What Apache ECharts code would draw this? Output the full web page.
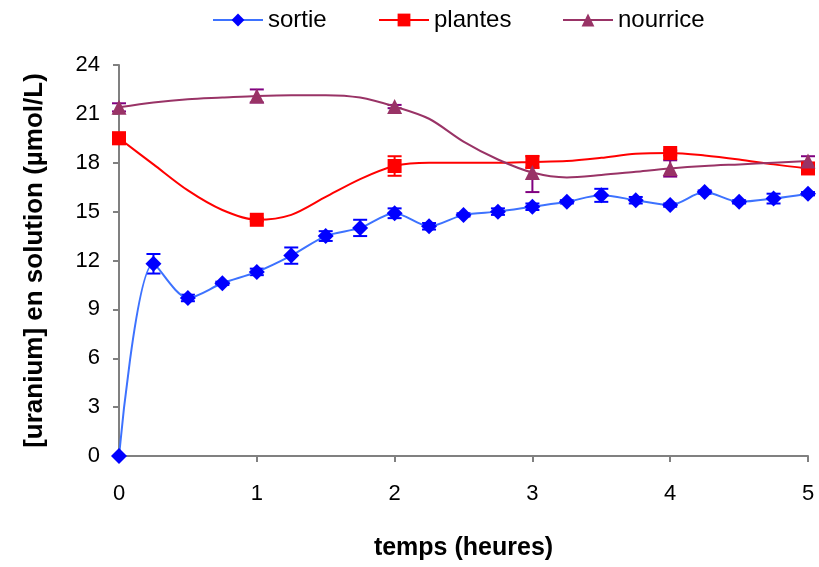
<!DOCTYPE html>
<html>
<head>
<meta charset="utf-8">
<script src="https://cdn.jsdelivr.net/npm/echarts@6/dist/echarts.min.js"></script>
<style>
  html, body { margin: 0; padding: 0; background: #fff; }
  #chart { width: 819px; height: 567px; }
</style>
</head>
<body>
<div id="chart"></div>
<script>
// Sampling times (hours)
const hours = [0, 0.25, 0.5, 0.75, 1, 1.25, 1.5, 1.75, 2, 2.25, 2.5, 2.75, 3, 3.25, 3.5, 3.75, 4, 4.25, 4.5, 4.75, 5];

// Uranium concentration (µmol/L)
const sortie   = [0, 11.8, 9.7, 10.6, 11.3, 12.3, 13.5, 14.0, 14.9, 14.1, 14.8, 15.0, 15.3, 15.6, 16.0, 15.7, 15.4, 16.2, 15.6, 15.8, 16.1];
const plantes  = [19.5, 17.9, 16.3, 15.1, 14.5, 14.8, 15.9, 17.0, 17.8, 18.0, 18.0, 18.0, 18.05, 18.1, 18.3, 18.55, 18.6, 18.45, 18.2, 17.9, 17.65];
const nourrice = [21.4, 21.7, 21.9, 22.0, 22.1, 22.15, 22.15, 22.0, 21.45, 20.7, 19.3, 18.2, 17.4, 17.1, 17.25, 17.45, 17.65, 17.8, 17.9, 18.0, 18.1];

// Standard deviations (lower, upper)
const sortieErrLo = [0, 0.6, 0.2, 0.1, 0.2, 0.5, 0.3, 0.5, 0.3, 0.2, 0.1, 0.2, 0.2, 0.1, 0.4, 0.2, 0.1, 0.1, 0.1, 0.3, 0.1];
const sortieErrHi = sortieErrLo;
// plantes / nourrice: measured at whole hours only
const measuredHours = [0, 1, 2, 3, 4, 5];
const plantesErrLo  = [0.35, 0.1, 0.6, 0.35, 0.15, 0.1];
const plantesErrHi  = [0.35, 0.1, 0.6, 0.35, 0.15, 0.1];
const nourriceErrLo = [0.25, 0.4, 0.1, 1.2, 0.5, 0.3];
const nourriceErrHi = [0.25, 0.4, 0.1, 0.0, 0.5, 0.3];

const yTicks = [0, 3, 6, 9, 12, 15, 18, 21, 24];
const xTicks = [0, 1, 2, 3, 4, 5];

const seriesNames = ['sortie', 'plantes', 'nourrice'];

const FONT = '"Liberation Sans", Arial, sans-serif';

function lineData(values, markAll) {
  return hours.map((h, i) => {
    const item = { value: [h, values[i]] };
    if (!markAll && !measuredHours.includes(h)) item.symbol = 'none';
    return item;
  });
}

function errData(values, lo, hi, allPoints) {
  const xs = allPoints ? hours : measuredHours;
  return xs.map((h, k) => {
    const y = values[hours.indexOf(h)];
    return [h, y, y - lo[k], y + hi[k]];
  });
}

function errSeries(name, data, color) {
  return {
    name: name,
    type: 'custom',
    data: data,
    encode: { x: 0, y: 1 },
    z: 3,
    silent: true,
    renderItem: function (params, api) {
      const x = api.value(0), y = api.value(1), lo = api.value(2), hi = api.value(3);
      const pLo = api.coord([x, lo]);
      const pHi = api.coord([x, hi]);
      const w = 7;
      const style = { stroke: color, lineWidth: 2 };
      const children = [
        { type: 'line', shape: { x1: pLo[0], y1: pLo[1], x2: pHi[0], y2: pHi[1] }, style: style }
      ];
      if (lo < y) children.push({ type: 'line', shape: { x1: pLo[0] - w, y1: pLo[1], x2: pLo[0] + w, y2: pLo[1] }, style: style });
      if (hi > y) children.push({ type: 'line', shape: { x1: pHi[0] - w, y1: pHi[1], x2: pHi[0] + w, y2: pHi[1] }, style: style });
      return { type: 'group', children: children };
    }
  };
}

function legendFor(name, left) {
  return {
    top: 8,
    left: left,
    padding: 0,
    itemWidth: 50,
    itemHeight: 16,
    itemGap: 0,
    data: [name],
    textStyle: { fontSize: 24, color: '#000', fontFamily: FONT }
  };
}

const chart = echarts.init(document.getElementById('chart'));

chart.setOption({
  animation: false,
  backgroundColor: '#ffffff',
  textStyle: { fontFamily: FONT },
  legend: [legendFor(seriesNames[0], 212), legendFor(seriesNames[1], 378), legendFor(seriesNames[2], 562)],
  grid: { left: 119, right: 11, top: 65, bottom: 111, containLabel: false },
  xAxis: {
    type: 'value',
    min: 0, max: 5, interval: 1,
    name: 'temps (heures)',
    nameLocation: 'middle',
    nameGap: 80,
    nameTextStyle: { fontSize: 25, fontWeight: 'bold', color: '#000', fontFamily: FONT },
    axisLine: { show: true, lineStyle: { color: '#808080', width: 2 } },
    axisTick: { show: true, length: 6, inside: false, lineStyle: { color: '#808080', width: 2 } },
    axisLabel: { fontSize: 22, color: '#000', margin: 27, fontFamily: FONT,
      formatter: v => xTicks.includes(v) ? String(v) : '' },
    splitLine: { show: false }
  },
  yAxis: {
    type: 'value',
    min: 0, max: 24, interval: 3,
    name: '[uranium] en solution (µmol/L)',
    nameLocation: 'middle',
    nameGap: 71,
    nameTextStyle: { fontSize: 26, fontWeight: 'bold', color: '#000', fontFamily: FONT },
    axisLine: { show: true, lineStyle: { color: '#808080', width: 2 } },
    axisTick: { show: true, length: 6, inside: false, lineStyle: { color: '#808080', width: 2 } },
    axisLabel: { fontSize: 22, color: '#000', margin: 19, fontFamily: FONT,
      formatter: v => yTicks.includes(v) ? String(v) : '' },
    splitLine: { show: false }
  },
  series: [
    {
      name: seriesNames[0],
      type: 'line',
      smooth: 0.3,
      data: lineData(sortie, true),
      symbol: 'diamond',
      symbolSize: 16,
      z: 4,
      lineStyle: { color: '#3d72ff', width: 2 },
      itemStyle: { color: '#0000ff', borderWidth: 0 },
      color: '#0000ff'
    },
    {
      name: seriesNames[1],
      type: 'line',
      smooth: 0.3,
      data: lineData(plantes, false),
      symbol: 'rect',
      symbolSize: 14,
      z: 4,
      lineStyle: { color: '#ff0000', width: 2 },
      itemStyle: { color: '#ff0000', borderWidth: 0 },
      color: '#ff0000'
    },
    {
      name: seriesNames[2],
      type: 'line',
      smooth: 0.3,
      data: lineData(nourrice, false),
      symbol: 'triangle',
      symbolSize: 15,
      z: 4,
      lineStyle: { color: '#993366', width: 2 },
      itemStyle: { color: '#993366', borderWidth: 0 },
      color: '#993366'
    },
    errSeries(seriesNames[0], errData(sortie, sortieErrLo, sortieErrHi, true), '#0000ff'),
    errSeries(seriesNames[1], errData(plantes, plantesErrLo, plantesErrHi, false), '#ff0000'),
    errSeries(seriesNames[2], errData(nourrice, nourriceErrLo, nourriceErrHi, false), '#800080')
  ]
});
</script>
</body>
</html>
